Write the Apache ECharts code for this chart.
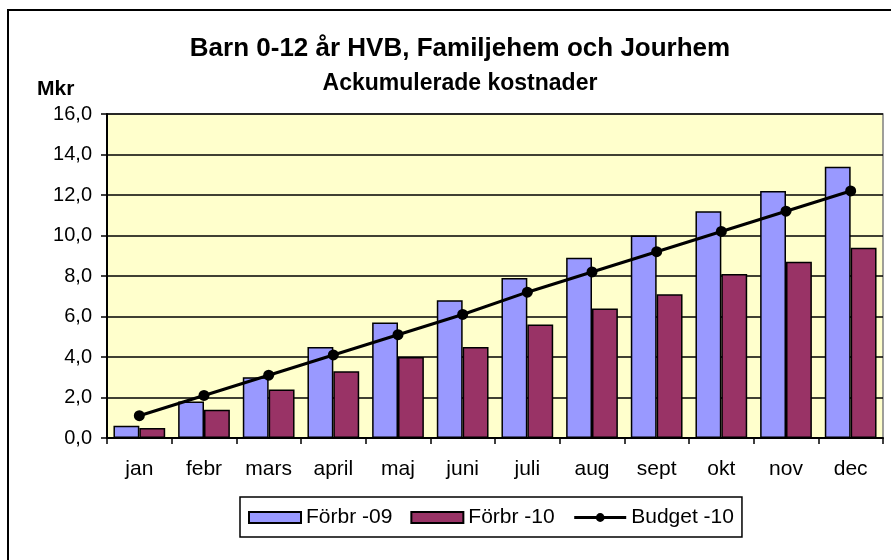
<!DOCTYPE html>
<html>
<head>
<meta charset="utf-8">
<script src="https://cdn.jsdelivr.net/npm/echarts@6/dist/echarts.min.js"></script>
<style>
  html, body { margin: 0; padding: 0; background: #fff; }
  #chart { width: 891px; height: 560px; }
</style>
</head>
<body>
<div id="chart"></div>
<script>
const months = ["jan", "febr", "mars", "april", "maj", "juni", "juli", "aug", "sept", "okt", "nov", "dec"];
const forbr09 = [0.6, 1.8, 3.0, 4.5, 5.7, 6.8, 7.9, 8.9, 10.0, 11.2, 12.2, 13.4];
const forbr10 = [0.5, 1.4, 2.4, 3.3, 4.0, 4.5, 5.6, 6.4, 7.1, 8.1, 8.7, 9.4];
const budget10 = [1.1, 2.1, 3.1, 4.1, 5.1, 6.1, 7.2, 8.2, 9.2, 10.2, 11.2, 12.2];

const font = "'Liberation Sans', Arial, sans-serif";

const chart = echarts.init(document.getElementById("chart"), null, { renderer: "canvas" });
chart.setOption({
  animation: false,
  textStyle: { fontFamily: font },
  title: [
    {
      text: "Barn 0-12 år HVB, Familjehem och Jourhem",
      left: 455,
      top: 31,
      textAlign: "center",
      textStyle: { fontSize: 26, fontWeight: "bold", color: "#000", fontFamily: font },
    },
    {
      text: "Ackumulerade kostnader",
      left: 455,
      top: 67,
      textAlign: "center",
      textStyle: { fontSize: 23, fontWeight: "bold", color: "#000", fontFamily: font },
    },
    {
      text: "Mkr",
      left: 32,
      top: 74,
      textStyle: { fontSize: 21, fontWeight: "bold", color: "#000", fontFamily: font },
    },
  ],
  graphic: [
    {
      type: "rect",
      shape: { x: 8, y: 10, width: 900, height: 600 },
      style: { fill: "none", stroke: "#000", lineWidth: 2 },
      z: -10,
    },
  ],
  grid: {
    left: 107,
    right: 8,
    top: 114,
    bottom: 122,
    show: true,
    backgroundColor: "#FFFFCC",
    borderColor: "#808080",
    borderWidth: 1.5,
  },
  legend: {
    left: 240,
    top: 497,
    itemWidth: 52,
    itemHeight: 11,
    itemGap: 18,
    padding: [10, 8, 9, 8],
    borderColor: "#000",
    borderWidth: 1.5,
    lineStyle: { width: 3 },
    textStyle: { fontSize: 21, color: "#000", fontFamily: font },
    data: [
      { name: "Förbr -09", icon: "rect" },
      { name: "Förbr -10", icon: "rect" },
      { name: "Budget -10" },
    ],
  },
  xAxis: {
    type: "category",
    data: months,
    axisLine: { lineStyle: { color: "#000", width: 2 } },
    axisTick: { show: true, length: 6, lineStyle: { color: "#000", width: 1.5 } },
    axisLabel: { fontSize: 21, color: "#000", margin: 21, fontFamily: font },
  },
  yAxis: {
    type: "value",
    min: 0,
    max: 16,
    interval: 2,
    axisLine: { show: true, lineStyle: { color: "#000", width: 2 } },
    axisTick: { show: true, length: 6, lineStyle: { color: "#000", width: 1.5 } },
    splitLine: { lineStyle: { color: "#000", width: 1.5 } },
    axisLabel: {
      fontSize: 20,
      color: "#000",
      margin: 15,
      fontFamily: font,
      formatter: (v) => v.toFixed(1).replace(".", ","),
    },
  },
  series: [
    {
      name: "Förbr -09",
      type: "bar",
      data: forbr09,
      barGap: "0%",
      barCategoryGap: "20%",
      itemStyle: { color: "#9999FF", borderColor: "#000", borderWidth: 1.5 },
    },
    {
      name: "Förbr -10",
      type: "bar",
      data: forbr10,
      barGap: "0%",
      barCategoryGap: "20%",
      itemStyle: { color: "#993366", borderColor: "#000", borderWidth: 1.5 },
    },
    {
      name: "Budget -10",
      type: "line",
      data: budget10,
      symbol: "circle",
      symbolSize: 11,
      lineStyle: { color: "#000", width: 3 },
      itemStyle: { color: "#000" },
      z: 5,
    },
  ],
});
</script>
</body>
</html>
